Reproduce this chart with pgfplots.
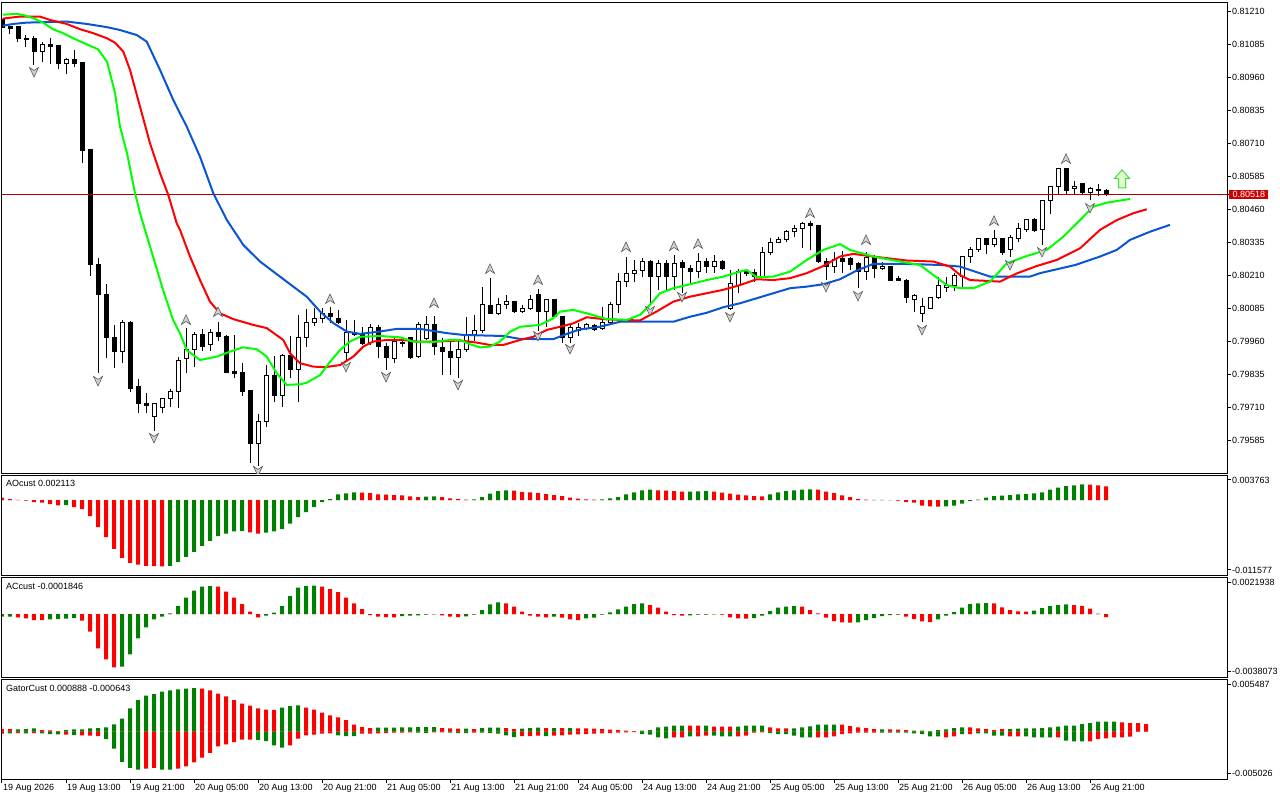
\documentclass[border=0pt]{standalone}
\usepackage{fontspec}
\setmainfont{Liberation Sans}
\usepackage{pgfplots}
\usepackage{pgfplotstable}
\pgfplotsset{compat=1.18}
\definecolor{lipsG}{RGB}{0,255,0}
\definecolor{teethR}{RGB}{255,0,0}
\definecolor{jawB}{RGB}{10,85,210}
\definecolor{histG}{RGB}{0,128,0}
\definecolor{histR}{RGB}{255,0,0}
\definecolor{pxRed}{RGB}{204,0,0}
\definecolor{pxLine}{RGB}{175,0,0}
\definecolor{arrFill}{RGB}{225,255,200}
\definecolor{arrDraw}{RGB}{70,220,70}
\newcommand{\lbl}{\fontsize{9}{10}\selectfont}

\pgfdeclareplotmark{fracup}{%
  \pgfpathmoveto{\pgfqpoint{0pt}{5pt}}%
  \pgfpathlineto{\pgfqpoint{4.5pt}{-4.5pt}}%
  \pgfpathlineto{\pgfqpoint{0pt}{-1.5pt}}%
  \pgfpathlineto{\pgfqpoint{-4.5pt}{-4.5pt}}%
  \pgfpathclose
  \pgfusepathqfillstroke}
\pgfdeclareplotmark{fracdn}{%
  \pgfpathmoveto{\pgfqpoint{0pt}{-5pt}}%
  \pgfpathlineto{\pgfqpoint{4.5pt}{4.5pt}}%
  \pgfpathlineto{\pgfqpoint{0pt}{1.5pt}}%
  \pgfpathlineto{\pgfqpoint{-4.5pt}{4.5pt}}%
  \pgfpathclose
  \pgfusepathqfillstroke}
\pgfdeclareplotmark{bigup}{%
  \pgfpathmoveto{\pgfqpoint{0pt}{9pt}}%
  \pgfpathlineto{\pgfqpoint{7.5pt}{0.5pt}}%
  \pgfpathlineto{\pgfqpoint{3.5pt}{0.5pt}}%
  \pgfpathlineto{\pgfqpoint{3.5pt}{-9pt}}%
  \pgfpathlineto{\pgfqpoint{-3.5pt}{-9pt}}%
  \pgfpathlineto{\pgfqpoint{-3.5pt}{0.5pt}}%
  \pgfpathlineto{\pgfqpoint{-7.5pt}{0.5pt}}%
  \pgfpathclose
  \pgfusepathqfillstroke}

\pgfplotstableread{
i o h l c
0 0.81179 0.81187 0.81145 0.81149
1 0.81153 0.81155 0.81126 0.81147
2 0.81153 0.81157 0.81096 0.81107
3 0.81109 0.81122 0.81078 0.81106
4 0.81109 0.81119 0.81009 0.81058
5 0.81058 0.81097 0.81019 0.81087
6 0.81088 0.81110 0.81013 0.81080
7 0.81081 0.81085 0.80994 0.81013
8 0.81013 0.81034 0.80975 0.81030
9 0.81030 0.81066 0.80999 0.81016
10 0.81018 0.81020 0.80638 0.80683
11 0.80687 0.80691 0.80210 0.80251
12 0.80251 0.80278 0.79842 0.80141
13 0.80141 0.80179 0.79899 0.79978
14 0.79978 0.80024 0.79861 0.79922
15 0.79922 0.80043 0.79880 0.80035
16 0.80035 0.80037 0.79770 0.79785
17 0.79789 0.79819 0.79691 0.79725
18 0.79728 0.79766 0.79691 0.79717
19 0.79679 0.79729 0.79622 0.79728
20 0.79710 0.79745 0.79691 0.79744
21 0.79744 0.79781 0.79713 0.79770
22 0.79770 0.79903 0.79710 0.79891
23 0.79895 0.80013 0.79842 0.79929
24 0.79929 0.79997 0.79865 0.79986
25 0.79986 0.80009 0.79925 0.79944
26 0.79948 0.80009 0.79925 0.79997
27 0.79997 0.80035 0.79963 0.79982
28 0.79982 0.79984 0.79840 0.79842
29 0.79846 0.79986 0.79823 0.79840
30 0.79842 0.79880 0.79755 0.79770
31 0.79774 0.79776 0.79501 0.79573
32 0.79573 0.79687 0.79490 0.79660
33 0.79660 0.79872 0.79638 0.79831
34 0.79831 0.79906 0.79732 0.79755
35 0.79755 0.79912 0.79713 0.79910
36 0.79910 0.79982 0.79823 0.79857
37 0.79857 0.80062 0.79732 0.79975
38 0.79975 0.80085 0.79941 0.80035
39 0.80035 0.80088 0.80020 0.80047
40 0.80050 0.80088 0.80032 0.80069
41 0.80066 0.80092 0.80032 0.80054
42 0.80050 0.80081 0.80028 0.80035
43 0.79918 0.80043 0.79891 0.79994
44 0.79997 0.80043 0.79982 0.79986
45 0.79986 0.80016 0.79948 0.79952
46 0.79956 0.80028 0.79948 0.80016
47 0.80016 0.80024 0.79899 0.79941
48 0.79941 0.79956 0.79853 0.79899
49 0.79895 0.79978 0.79880 0.79960
50 0.79956 0.79978 0.79941 0.79954
51 0.79978 0.79980 0.79895 0.79899
52 0.79903 0.80035 0.79899 0.80024
53 0.79971 0.80058 0.79967 0.80024
54 0.80024 0.80058 0.79910 0.79941
55 0.79937 0.79975 0.79835 0.79925
56 0.79925 0.79967 0.79835 0.79899
57 0.79899 0.79967 0.79823 0.79929
58 0.79929 0.80054 0.79922 0.79986
59 0.79986 0.80062 0.79963 0.80001
60 0.80001 0.80168 0.79994 0.80100
61 0.80096 0.80202 0.80067 0.80069
62 0.80069 0.80126 0.80062 0.80100
63 0.80100 0.80138 0.80085 0.80111
64 0.80111 0.80115 0.80071 0.80073
65 0.80073 0.80100 0.80071 0.80088
66 0.80088 0.80138 0.80081 0.80119
67 0.80138 0.80160 0.80001 0.80073
68 0.80073 0.80121 0.80016 0.80119
69 0.80119 0.80121 0.80050 0.80054
70 0.80054 0.80056 0.79956 0.79978
71 0.79978 0.80032 0.79956 0.80013
72 0.80001 0.80032 0.79982 0.80016
73 0.80009 0.80032 0.80005 0.80024
74 0.80020 0.80028 0.80001 0.80005
75 0.80009 0.80092 0.80005 0.80035
76 0.80035 0.80111 0.80024 0.80103
77 0.80103 0.80221 0.80069 0.80187
78 0.80187 0.80282 0.80168 0.80217
79 0.80217 0.80270 0.80187 0.80232
80 0.80232 0.80278 0.80206 0.80266
81 0.80266 0.80270 0.80107 0.80206
82 0.80206 0.80270 0.80157 0.80255
83 0.80255 0.80270 0.80157 0.80206
84 0.80206 0.80289 0.80157 0.80255
85 0.80259 0.80270 0.80145 0.80240
86 0.80236 0.80251 0.80183 0.80228
87 0.80228 0.80297 0.80202 0.80263
88 0.80263 0.80278 0.80221 0.80244
89 0.80244 0.80289 0.80221 0.80263
90 0.80263 0.80270 0.80232 0.80236
91 0.80085 0.80232 0.80081 0.80179
92 0.80175 0.80236 0.80145 0.80225
93 0.80225 0.80236 0.80210 0.80217
94 0.80221 0.80236 0.80187 0.80206
95 0.80206 0.80319 0.80202 0.80300
96 0.80300 0.80354 0.80289 0.80335
97 0.80335 0.80357 0.80333 0.80346
98 0.80346 0.80384 0.80338 0.80376
99 0.80376 0.80403 0.80357 0.80391
100 0.80391 0.80414 0.80316 0.80410
101 0.80410 0.80418 0.80308 0.80399
102 0.80399 0.80401 0.80259 0.80263
103 0.80263 0.80278 0.80194 0.80244
104 0.80244 0.80300 0.80221 0.80270
105 0.80274 0.80304 0.80221 0.80263
106 0.80274 0.80282 0.80232 0.80251
107 0.80255 0.80263 0.80164 0.80225
108 0.80225 0.80300 0.80194 0.80278
109 0.80278 0.80289 0.80202 0.80236
110 0.80236 0.80263 0.80232 0.80247
111 0.80247 0.80249 0.80191 0.80194
112 0.80198 0.80210 0.80189 0.80191
113 0.80194 0.80198 0.80107 0.80126
114 0.80122 0.80141 0.80073 0.80134
115 0.80069 0.80126 0.80035 0.80092
116 0.80088 0.80130 0.80086 0.80126
117 0.80126 0.80206 0.80124 0.80172
118 0.80164 0.80206 0.80149 0.80175
119 0.80172 0.80221 0.80153 0.80210
120 0.80206 0.80284 0.80168 0.80282
121 0.80282 0.80319 0.80259 0.80308
122 0.80308 0.80354 0.80300 0.80350
123 0.80350 0.80354 0.80293 0.80327
124 0.80327 0.80384 0.80319 0.80350
125 0.80350 0.80352 0.80289 0.80300
126 0.80308 0.80365 0.80282 0.80354
127 0.80350 0.80410 0.80338 0.80388
128 0.80384 0.80427 0.80376 0.80425
129 0.80425 0.80429 0.80376 0.80380
130 0.80384 0.80497 0.80327 0.80494
131 0.80494 0.80549 0.80444 0.80547
132 0.80547 0.80619 0.80516 0.80615
133 0.80615 0.80619 0.80516 0.80535
134 0.80539 0.80569 0.80516 0.80550
135 0.80558 0.80562 0.80516 0.80524
136 0.80524 0.80547 0.80497 0.80539
137 0.80537 0.80558 0.80512 0.80533
138 0.80535 0.80539 0.80512 0.80518
}\candles

\pgfplotstableread{
x y
0.09 0.81199
1.84 0.81202
2.63 0.81198
3.88 0.81186
5.13 0.81169
6.38 0.81144
7.63 0.81129
8.88 0.81110
10.13 0.81093
12 0.81068
13.13 0.81021
14.13 0.80902
14.75 0.80775
15.63 0.80674
16.63 0.80523
17.25 0.80448
18.25 0.80346
18.88 0.80283
20.13 0.80157
21.38 0.80043
22.25 0.79992
23.09 0.79929
24.75 0.79891
26.84 0.79904
28.88 0.79927
30.13 0.79939
31.84 0.79932
33.09 0.79904
34.34 0.79841
35.59 0.79797
37.25 0.79799
38.09 0.79805
39.75 0.79834
41 0.79884
42.25 0.79929
43.5 0.79961
44.75 0.79979
47.25 0.79982
49.75 0.79977
51.38 0.79961
53.5 0.79958
56 0.79967
57.25 0.79967
58.5 0.79951
59.75 0.79939
61 0.79942
62.25 0.79961
63.5 0.79998
64.75 0.80017
67.25 0.80024
68.9 0.80049
69.75 0.80074
71.38 0.80081
73.09 0.80068
75.59 0.80046
78.09 0.80043
79.75 0.80062
81 0.80100
82.25 0.80144
83.91 0.80163
86 0.80178
88.09 0.80194
90.16 0.80207
92.25 0.80226
93.09 0.80232
94.34 0.80205
96.41 0.80207
98.5 0.80226
100.59 0.80270
102.66 0.80308
104.75 0.80330
106 0.80308
108.91 0.80283
112.25 0.80264
114.75 0.80251
116.41 0.80213
118.09 0.80175
119.75 0.80163
121.41 0.80163
123.5 0.80188
125.59 0.80257
128.09 0.80285
130.59 0.80308
132.66 0.80358
134.75 0.80421
136.41 0.80472
138.09 0.80487
141 0.80501
}\lips

\pgfplotstableread{
x y
0.09 0.81184
2.25 0.81192
4.75 0.81192
6 0.81179
8.09 0.81164
9.75 0.81144
11.41 0.81129
13.09 0.81110
14.13 0.81093
15.16 0.81059
16 0.80990
17.25 0.80851
18.5 0.80712
19.75 0.80599
20.79 0.80516
21.84 0.80409
22.25 0.80384
23.5 0.80283
24.75 0.80194
26 0.80112
27.25 0.80068
28.91 0.80046
31.41 0.80024
33.09 0.80012
35.16 0.79967
36 0.79917
37.25 0.79879
38.91 0.79866
40.38 0.79864
42.25 0.79872
43.91 0.79904
45.16 0.79942
46.41 0.79961
48.09 0.79967
50.16 0.79967
51.84 0.79961
54.34 0.79961
57.25 0.79965
59.34 0.79957
61 0.79948
62.66 0.79948
64.75 0.79967
66.41 0.79979
68.09 0.80005
69.75 0.80017
71.41 0.80030
73.09 0.80053
75.16 0.80046
77.25 0.80043
79.75 0.80041
81.84 0.80075
83.91 0.80112
86 0.80131
88.09 0.80144
90.16 0.80157
92.25 0.80175
94.34 0.80197
96.41 0.80194
98.5 0.80201
100.59 0.80220
102.66 0.80247
104.75 0.80283
106.41 0.80293
108.91 0.80283
113.09 0.80268
116.41 0.80264
118.5 0.80245
119.75 0.80213
121 0.80194
124.75 0.80188
126.84 0.80219
129.34 0.80247
131.84 0.80270
134.75 0.80314
137.25 0.80384
139.34 0.80421
141.41 0.80447
143.09 0.80462
}\teeth

\pgfplotstableread{
x y
0.09 0.81157
1.41 0.81164
3.09 0.81169
8.09 0.81173
10.59 0.81164
13.09 0.81152
14.75 0.81141
16.84 0.81122
18.09 0.81097
19.75 0.80990
21.41 0.80876
23.09 0.80775
24.75 0.80661
26.41 0.80523
28.09 0.80422
29.75 0.80346
30.16 0.80327
32.25 0.80264
34.75 0.80207
36.41 0.80169
38.09 0.80131
39.75 0.80075
41.41 0.80031
43.09 0.79999
44.75 0.79990
47.25 0.79999
49.34 0.80009
52.25 0.80009
55.59 0.79993
57.66 0.79986
62.66 0.79982
64.75 0.79971
68.91 0.79970
70.59 0.79990
72.25 0.80007
74.75 0.80017
77.25 0.80036
81 0.80036
83.91 0.80036
86 0.80055
88.09 0.80070
90.16 0.80091
92.25 0.80106
94.34 0.80125
96.41 0.80144
98.5 0.80163
100.59 0.80169
102.66 0.80178
104.75 0.80197
106.84 0.80230
108.91 0.80255
113.09 0.80255
117.25 0.80251
119.75 0.80245
123.5 0.80207
128.5 0.80207
129.75 0.80220
134.16 0.80251
137.25 0.80283
139.34 0.80308
141 0.80346
143.5 0.80377
146 0.80403
}\jaw

\pgfplotstableread{
x y
23 0.80043
27 0.80073
41 0.80122
54 0.80107
61 0.80236
67 0.80194
78 0.80319
84 0.80323
87 0.80331
101 0.80448
108 0.80346
124 0.80418
133 0.80653
}\fup

\pgfplotstableread{
x y
4 0.80982
12 0.79812
19 0.79596
32 0.79471
43 0.79865
48 0.79827
57 0.79797
67 0.79982
71 0.79933
81 0.80077
85 0.80130
91 0.80054
103 0.80168
107 0.80134
115 0.80005
126 0.80251
130 0.80300
136 0.80467
}\fdn

\pgfplotstableread{
i v g
0 0.000358 0
1 0.000153 0
2 0.000026 0
3 -0.000102 0
4 -0.000307 0
5 -0.000409 0
6 -0.000613 0
7 -0.000818 0
8 -0.000767 1
9 -0.001073 0
10 -0.001380 0
11 -0.002453 0
12 -0.004139 0
13 -0.005672 0
14 -0.007512 0
15 -0.008891 0
16 -0.009658 0
17 -0.009913 0
18 -0.010118 0
19 -0.010143 0
20 -0.010169 0
21 -0.010118 1
22 -0.009505 1
23 -0.008738 1
24 -0.007972 1
25 -0.007052 1
26 -0.006285 1
27 -0.005519 1
28 -0.005161 1
29 -0.004803 1
30 -0.004778 1
31 -0.004957 0
32 -0.005161 0
33 -0.005008 1
34 -0.004803 1
35 -0.004446 1
36 -0.003628 1
37 -0.002606 1
38 -0.001840 1
39 -0.001073 1
40 -0.000307 1
41 0.000153 1
42 0.000869 1
43 0.001022 1
44 0.001175 1
45 0.001150 0
46 0.001073 0
47 0.000869 0
48 0.000818 0
49 0.000767 0
50 0.000715 0
51 0.000562 0
52 0.000460 0
53 0.000511 1
54 0.000562 1
55 0.000460 0
56 0.000256 0
57 0.000153 0
58 0.000077 0
59 0.000102 1
60 0.000460 1
61 0.000971 1
62 0.001380 1
63 0.001482 1
64 0.001431 0
65 0.001226 0
66 0.001175 0
67 0.001073 0
68 0.000920 0
69 0.000767 0
70 0.000613 0
71 0.000358 0
72 0.000204 0
73 0.000102 0
74 0.000051 0
75 0.000102 1
76 0.000256 1
77 0.000460 1
78 0.000869 1
79 0.001175 1
80 0.001482 1
81 0.001584 1
82 0.001482 0
83 0.001431 0
84 0.001380 0
85 0.001278 0
86 0.001303 1
87 0.001329 1
88 0.001354 1
89 0.001278 0
90 0.001124 0
91 0.000971 0
92 0.000818 0
93 0.000715 0
94 0.000588 0
95 0.000562 0
96 0.000869 1
97 0.001175 1
98 0.001380 1
99 0.001482 1
100 0.001610 1
101 0.001635 1
102 0.001610 0
103 0.001278 0
104 0.001073 0
105 0.000715 0
106 0.000460 0
107 0.000128 0
108 0.000051 0
109 0.000036 0
110 0.000020 0
111 -0.000015 0
112 -0.000102 0
113 -0.000307 0
114 -0.000409 0
115 -0.000869 0
116 -0.000971 0
117 -0.001022 0
118 -0.000971 1
119 -0.000843 1
120 -0.000562 1
121 -0.000153 1
122 0.000077 1
123 0.000358 1
124 0.000613 1
125 0.000664 1
126 0.000767 1
127 0.000869 1
128 0.000894 1
129 0.001022 1
130 0.001175 1
131 0.001584 1
132 0.001891 1
133 0.002146 1
134 0.002248 1
135 0.002402 1
136 0.002351 0
137 0.002248 0
138 0.002113 0
}\ao

\pgfplotstableread{
i v g
0 -0.00016 1
1 -0.00016 1
2 -0.00020 0
3 -0.00026 0
4 -0.00036 0
5 -0.00036 0
6 -0.00032 1
7 -0.00030 1
8 -0.00028 1
9 -0.00024 1
10 -0.00040 0
11 -0.00106 0
12 -0.00206 0
13 -0.00272 0
14 -0.00320 0
15 -0.00316 1
16 -0.00242 1
17 -0.00146 1
18 -0.00080 1
19 -0.00032 1
20 -0.00016 1
21 0.00004 1
22 0.00048 1
23 0.00098 1
24 0.00140 1
25 0.00164 1
26 0.00168 1
27 0.00164 0
28 0.00134 0
29 0.00098 0
30 0.00060 0
31 0.00014 0
32 -0.00020 0
33 -0.00010 1
34 0.00008 1
35 0.00048 1
36 0.00108 1
37 0.00158 1
38 0.00168 1
39 0.00170 1
40 0.00164 0
41 0.00150 0
42 0.00132 0
43 0.00098 0
44 0.00064 0
45 0.00030 0
46 -0.00006 0
47 -0.00016 0
48 -0.00018 0
49 -0.00020 0
50 -0.00012 1
51 -0.00010 1
52 -0.00008 1
53 -0.00004 1
54 -0.00002 1
55 -0.00008 0
56 -0.00016 0
57 -0.00018 0
58 -0.00014 1
59 -0.00004 1
60 0.00024 1
61 0.00058 1
62 0.00070 1
63 0.00064 0
64 0.00044 0
65 0.00014 0
66 -0.00010 0
67 -0.00016 0
68 -0.00020 0
69 -0.00016 1
70 -0.00022 0
71 -0.00032 0
72 -0.00036 0
73 -0.00026 1
74 -0.00022 1
75 -0.00004 1
76 0.00010 1
77 0.00028 1
78 0.00044 1
79 0.00060 1
80 0.00064 1
81 0.00054 0
82 0.00038 0
83 0.00014 0
84 -0.00006 0
85 -0.00010 0
86 -0.00008 1
87 -0.00004 1
88 -0.00004 1
89 -0.00002 1
90 -0.00004 0
91 -0.00020 0
92 -0.00026 0
93 -0.00028 0
94 -0.00024 1
95 -0.00010 1
96 0.00018 1
97 0.00038 1
98 0.00044 1
99 0.00048 1
100 0.00044 0
101 0.00024 0
102 0.00004 0
103 -0.00022 0
104 -0.00042 0
105 -0.00050 0
106 -0.00052 0
107 -0.00050 1
108 -0.00036 1
109 -0.00024 1
110 -0.00012 1
111 -0.00006 1
112 -0.00004 1
113 -0.00016 0
114 -0.00030 0
115 -0.00044 0
116 -0.00048 0
117 -0.00032 1
118 -0.00010 1
119 0.00012 1
120 0.00038 1
121 0.00060 1
122 0.00064 1
123 0.00066 1
124 0.00064 0
125 0.00040 0
126 0.00024 0
127 0.00016 0
128 0.00014 0
129 0.00020 1
130 0.00036 1
131 0.00048 1
132 0.00054 1
133 0.00058 1
134 0.00054 0
135 0.00048 0
136 0.00032 0
137 0.00002 0
138 -0.000185 0
}\ac

\pgfplotstableread{
i up uc dn dc
0 0.00028 0 -0.00021 0
1 0.00028 0 -0.000175 1
2 0.000245 1 -0.00014 0
3 0.00028 1 -0.000175 1
4 0.00035 1 -0.00014 0
5 0.000175 0 -0.000175 1
6 0.00014 0 -0.000245 1
7 0.00007 0 -0.00028 1
8 0.000175 1 -0.000315 0
9 0.000245 1 -0.00035 1
10 0.000245 1 -0.000385 0
11 0.00035 1 -0.00042 0
12 0.000385 1 -0.000455 0
13 0.000455 1 -0.00077 1
14 0.00077 1 -0.001785 1
15 0.001365 1 -0.003185 1
16 0.00245 1 -0.003815 1
17 0.003325 1 -0.00399 1
18 0.00378 1 -0.003885 0
19 0.003955 1 -0.003815 0
20 0.0042 1 -0.00399 1
21 0.00434 1 -0.004 1
22 0.004445 1 -0.003885 0
23 0.004515 1 -0.00364 0
24 0.004585 1 -0.00322 0
25 0.004515 0 -0.00273 0
26 0.00434 0 -0.00224 0
27 0.00399 0 -0.00154 0
28 0.00371 0 -0.00133 0
29 0.003325 0 -0.001085 0
30 0.00294 0 -0.00084 0
31 0.00273 0 -0.00083 0
32 0.00245 0 -0.00085 1
33 0.00231 0 -0.00098 1
34 0.0023 0 -0.001435 1
35 0.00252 1 -0.00168 1
36 0.002695 1 -0.001435 0
37 0.002765 1 -0.000735 0
38 0.00252 0 -0.000385 0
39 0.00231 0 -0.000315 0
40 0.001995 0 -0.00021 0
41 0.001715 0 -0.000175 0
42 0.001505 0 -0.000385 1
43 0.001225 0 -0.000455 1
44 0.000735 0 -0.00046 1
45 0.00049 0 -0.00021 0
46 0.000385 0 -0.0002 0
47 0.00042 1 -0.00019 0
48 0.00043 1 -0.00014 0
49 0.00044 1 -0.000105 0
50 0.00045 1 -0.0001 0
51 0.00046 1 -0.00007 0
52 0.00047 1 -0.000105 1
53 0.00048 1 -0.00014 1
54 0.00049 1 -0.00007 0
55 0.000385 0 -0.00006 0
56 0.00035 0 -0.000105 1
57 0.000315 0 -0.00014 1
58 0.00032 1 -0.00015 1
59 0.00028 0 -0.000105 0
60 0.000385 1 -0.00011 1
61 0.00042 1 -0.00014 1
62 0.00043 1 -0.00021 1
63 0.000385 0 -0.000385 1
64 0.00028 0 -0.00056 1
65 0.000315 1 -0.000455 0
66 0.000385 1 -0.000455 0
67 0.00042 1 -0.00042 0
68 0.000385 0 -0.000455 1
69 0.000385 1 -0.00042 0
70 0.000385 0 -0.000385 0
71 0.000385 1 -0.000315 0
72 0.00035 0 -0.00028 0
73 0.00035 0 -0.000245 0
74 0.000315 0 -0.00021 0
75 0.00028 0 -0.000175 0
76 0.00021 0 -0.00014 0
77 0.000175 0 -0.000105 0
78 0.000105 0 -0.00007 0
79 0.00007 0 -0.000035 0
80 0.000105 1 -0.000245 1
81 0.000175 1 -0.000315 1
82 0.000455 1 -0.000595 1
83 0.000525 1 -0.0007 1
84 0.00063 1 -0.000595 0
85 0.00063 1 -0.000595 0
86 0.00063 0 -0.00049 1
87 0.00063 0 -0.00049 0
88 0.00063 1 -0.00042 0
89 0.000525 0 -0.00042 1
90 0.000525 0 -0.00049 1
91 0.000525 0 -0.00049 1
92 0.000525 1 -0.00049 0
93 0.00063 1 -0.00042 0
94 0.00063 1 -0.000105 0
95 0.00063 1 -0.00007 0
96 0.000455 0 -0.00014 1
97 0.00035 0 -0.000245 1
98 0.00035 0 -0.000245 1
99 0.00035 1 -0.00042 1
100 0.000455 1 -0.000595 1
101 0.00056 1 -0.000595 1
102 0.000735 1 -0.000595 0
103 0.000735 1 -0.000595 0
104 0.000735 1 -0.00049 0
105 0.000735 0 -0.000245 0
106 0.000595 0 -0.000175 0
107 0.000455 0 -0.000105 0
108 0.000385 0 -0.000105 0
109 0.00028 0 -0.000105 0
110 0.000245 1 -0.000105 1
111 0.000245 0 -0.000105 1
112 0.00021 0 -0.000105 1
113 0.000175 0 -0.000105 1
114 0.000105 1 -0.000175 1
115 0.000105 1 -0.000245 1
116 0.000035 1 -0.00049 1
117 0.000175 1 -0.00049 1
118 0.000245 1 -0.000595 0
119 0.000385 1 -0.00049 0
120 0.000455 1 -0.000245 1
121 0.000455 0 -0.000245 0
122 0.00035 0 -0.000175 1
123 0.00028 0 -0.000175 1
124 0.000175 0 -0.00042 1
125 0.00028 0 -0.00042 1
126 0.00028 1 -0.00049 0
127 0.000315 1 -0.00049 0
128 0.00035 1 -0.00049 1
129 0.00035 1 -0.000595 1
130 0.000385 1 -0.000595 1
131 0.000455 1 -0.000595 1
132 0.000525 1 -0.000595 0
133 0.00063 1 -0.000945 1
134 0.00063 1 -0.001015 1
135 0.000805 1 -0.001015 1
136 0.00091 1 -0.001015 0
137 0.00105 1 -0.00077 0
138 0.00105 1 -0.0007 0
139 0.00105 1 -0.000595 0
140 0.00098 0 -0.000595 0
141 0.00091 0 -0.000525 0
142 0.00091 0 0 0
143 0.000805 0 0 0
}\gator

\pgfplotsset{
  mt/.style={scale only axis, anchor=south west, width=1225pt, xmin=0, xmax=153.125,
    axis line style={line width=1pt, black}, xtick=\empty, ytick pos=right, yticklabel pos=right,
    tick align=outside, major tick length=4pt, tick style={line width=1pt, black},
    ticklabel style={font=\lbl, inner sep=1pt}, yticklabel style={anchor=west},
    scaled y ticks=false, scaled x ticks=false, clip=true},
  mainax/.style={mt, at={(2pt,326.7pt)}, height=471pt, ymin=0.79462, ymax=0.81246},
  aoax/.style={mt, at={(2pt,224.5pt)}, height=100pt, ymin=-0.011577, ymax=0.003763},
  acax/.style={mt, at={(2pt,122.5pt)}, height=100pt, ymin=-0.0038073, ymax=0.0021938},
  gtax/.style={mt, at={(2pt,20.5pt)}, height=100pt, ymin=-0.005026, ymax=0.005487},
  hbar/.style={ybar, bar width=4pt, bar shift=0pt, draw=none},
}

\begin{document}
\begin{tikzpicture}
\fill[white] (0pt,0pt) rectangle (1280pt,800pt);
\useasboundingbox (0pt,0pt) rectangle (1280pt,800pt);

% main panel: frame, ticks, wicks
\begin{axis}[mainax,
  ytick={0.81210,0.81085,0.80960,0.80835,0.80710,0.80585,0.80460,0.80335,0.80210,0.80085,0.79960,0.79835,0.79710,0.79585},
  yticklabels={0.81210,0.81085,0.80960,0.80835,0.80710,0.80585,0.80460,0.80335,0.80210,0.80085,0.79960,0.79835,0.79710,0.79585},
  extra y ticks={0.80518}, extra y tick labels={0.80518},
  extra y tick style={yticklabel style={fill=pxRed, text=white, inner xsep=3.3pt, inner ysep=1.3pt, xshift=-2pt}}]
\addplot[draw=none, mark=none, error bars/.cd, y dir=plus, y explicit, error mark=none,
  error bar style={draw=black, line width=1pt}]
  table[x=i, y=l, y error expr=\thisrow{h}-\thisrow{l}] {\candles};
\end{axis}

% candle bodies
\begin{axis}[mainax, hide axis, ybar stacked, bar width=4pt]
\addplot[fill=none, draw=none] table[x=i, y expr={min(\thisrow{o},\thisrow{c})}] {\candles};
\addplot[fill=white, draw=black, line width=1pt] table[x=i, y expr={max(\thisrow{c}-\thisrow{o},0)}] {\candles};
\addplot[fill=black, draw=black, line width=1pt] table[x=i, y expr={max(\thisrow{o}-\thisrow{c},0)}] {\candles};
\end{axis}

% alligator, price line, fractals
\begin{axis}[mainax, hide axis, clip marker paths=true]
\addplot[pxLine, line width=1pt] coordinates {(0,0.80518) (153.125,0.80518)};
\addplot[jawB, line width=2pt] table[x=x, y=y] {\jaw};
\addplot[teethR, line width=2pt] table[x=x, y=y] {\teeth};
\addplot[lipsG, line width=2pt] table[x=x, y=y] {\lips};
\addplot[only marks, mark=fracup, mark options={fill=gray!35, draw=gray!70!black, line width=0.6pt}] table[x=x, y=y] {\fup};
\addplot[only marks, mark=fracdn, mark options={fill=gray!35, draw=gray!70!black, line width=0.6pt}] table[x=x, y=y] {\fdn};
\addplot[only marks, mark=bigup, mark options={fill=arrFill, draw=arrDraw, line width=1pt}] coordinates {(140,0.80577)};
\end{axis}

% AO
\begin{axis}[aoax, ytick={0.003073,-0.010733}, yticklabels={0.003763,-0.011577}]
\addplot[hbar, fill=histG] table[x=i, y expr=\thisrow{v}*\thisrow{g}] {\ao};
\addplot[hbar, fill=histR] table[x=i, y expr=\thisrow{v}*(1-\thisrow{g})] {\ao};
\end{axis}

% AC
\begin{axis}[acax, ytick={0.0018818,-0.0034592}, yticklabels={0.0021938,-0.0038073}]
\addplot[hbar, fill=histG] table[x=i, y expr=\thisrow{v}*\thisrow{g}] {\ac};
\addplot[hbar, fill=histR] table[x=i, y expr=\thisrow{v}*(1-\thisrow{g})] {\ac};
\end{axis}

% Gator
\begin{axis}[gtax, ytick={0.004982,-0.004374}, yticklabels={0.005487,-0.005026},
  xtick={0,8,...,136}, xtick pos=left,
  xticklabels={19 Aug 2026,19 Aug 13:00,19 Aug 21:00,20 Aug 05:00,20 Aug 13:00,20 Aug 21:00,21 Aug 05:00,21 Aug 13:00,21 Aug 21:00,24 Aug 05:00,24 Aug 13:00,24 Aug 21:00,25 Aug 05:00,25 Aug 13:00,25 Aug 21:00,26 Aug 05:00,26 Aug 13:00,26 Aug 21:00},
  xticklabel style={anchor=north west, inner sep=1pt}]
\addplot[hbar, fill=histG] table[x=i, y expr=\thisrow{up}*\thisrow{uc}] {\gator};
\addplot[hbar, fill=histR] table[x=i, y expr=\thisrow{up}*(1-\thisrow{uc})] {\gator};
\addplot[hbar, fill=histG] table[x=i, y expr=\thisrow{dn}*\thisrow{dc}] {\gator};
\addplot[hbar, fill=histR] table[x=i, y expr=\thisrow{dn}*(1-\thisrow{dc})] {\gator};
\end{axis}

\node[anchor=north west, inner sep=0pt, font=\lbl] at (6pt,319.5pt) {AOcust 0.002113};
\node[anchor=north west, inner sep=0pt, font=\lbl] at (6pt,216.8pt) {ACcust -0.0001846};
\node[anchor=north west, inner sep=0pt, font=\lbl] at (6pt,114.5pt) {GatorCust 0.000888 -0.000643};
\end{tikzpicture}
\end{document}
